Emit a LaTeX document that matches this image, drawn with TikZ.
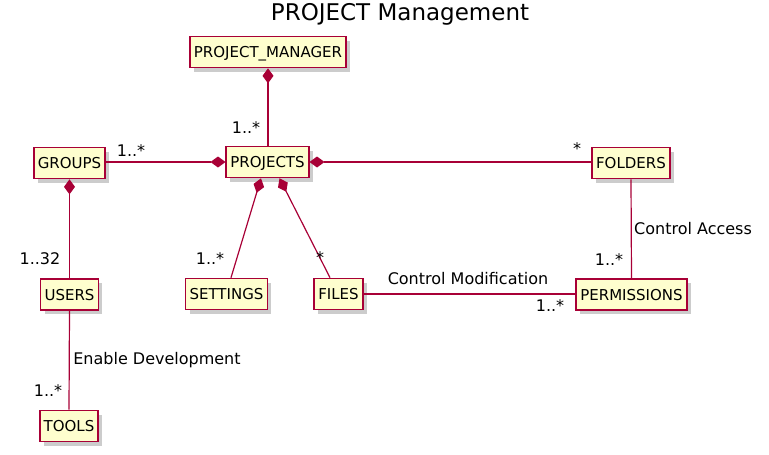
\documentclass[tikz,border=0pt]{standalone}
\usepackage{fontspec}
\setmainfont{DejaVu Sans}
\usepackage{xcolor}
\definecolor{borde}{RGB}{168,0,54}
\definecolor{fondo}{RGB}{254,254,206}
\usepackage{tikz}
\usetikzlibrary{arrows.meta,calc,positioning,shadows}

\begin{document}
\begin{tikzpicture}[x=1pt,y=-1pt,
    clase/.style={draw=borde,fill=fondo,line width=1.7pt,inner xsep=4pt,minimum height=31pt,
      text height=11pt,text depth=0pt,font=\fontsize{15}{16}\selectfont,
      drop shadow={shadow xshift=4pt,shadow yshift=-4pt,fill=black,opacity=0.2}},
    rel/.style={borde,line width=1.2pt},
    comp/.style={{Diamond[length=15pt,width=11pt]}-},
    lbl/.style={font=\fontsize{16}{17}\selectfont,inner sep=0pt}]
    \useasboundingbox (0,0) rectangle (769,455);
    \node[font=\fontsize{23}{25}\selectfont] (titulo) at (400,14) {PROJECT Management};
    \node[clase] (pm) at (268,52) {PROJECT\_MANAGER};
    \node[clase] (groups) at (69.5,163) {GROUPS};
    \node[clase] (projects) at (267.5,162) {PROJECTS};
    \node[clase] (folders) at (631,163) {FOLDERS};
    \node[clase] (users) at (69.5,294.5) {USERS};
    \node[clase] (settings) at (226.5,294) {SETTINGS};
    \node[clase] (files) at (338.5,294) {FILES};
    \node[clase] (permissions) at (631.5,294.5) {PERMISSIONS};
    \node[clase] (tools) at (69,426) {TOOLS};
    \draw[rel,comp] (pm.south) -- (pm.south |- projects.north);
    \draw[rel,comp] (projects.west) -- (groups.east |- projects.west);
    \draw[rel,comp] (projects.east) -- (folders.west |- projects.east);
    \draw[rel,comp] (groups.south) -- (users.north);
    \draw[rel,comp] ([xshift=-6.5pt]projects.south) -- ([xshift=4.5pt]settings.north);
    \draw[rel,comp] ([xshift=12pt]projects.south) -- ([xshift=-8.5pt]files.north);
    \draw[rel] (files.east) -- (permissions.west |- files.east);
    \draw[rel] (folders.south) -- (permissions.north);
    \draw[rel] (users.south) -- (tools.north);
    \node[lbl] (l1) at (246,128) {1..*};
    \node[lbl] (l2) at (131,151) {1..*};
    \node[lbl] (l3) at (577,149) {*};
    \node[lbl] (l4) at (40,259) {1..32};
    \node[lbl] (l5) at (210,259) {1..*};
    \node[lbl] (l6) at (320,258) {*};
    \node[lbl] (l7) at (468,279) {Control Modification};
    \node[lbl] (l8) at (550,306) {1..*};
    \node[lbl] (l9) at (693,229) {Control Access};
    \node[lbl] (l10) at (609,260) {1..*};
    \node[lbl] (l11) at (157,360) {Enable Development};
    \node[lbl] (l12) at (48,391) {1..*};
  \end{tikzpicture}
\end{document}
